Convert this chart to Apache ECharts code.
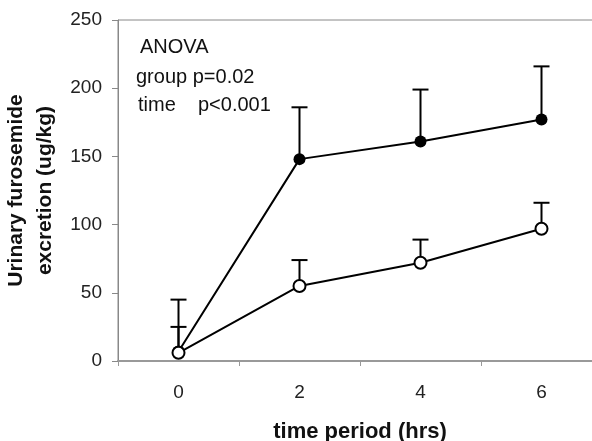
<!DOCTYPE html>
<html>
<head>
<meta charset="utf-8">
<script src="https://cdn.jsdelivr.net/npm/echarts@6/dist/echarts.min.js"></script>
<style>
  html, body { margin: 0; padding: 0; background: #fff; }
  #chart { width: 592px; height: 441px; }
</style>
</head>
<body>
<div id="chart"></div>
<script>
const timeLabels = ["0", "2", "4", "6"];
// filled circles (upper line)
const filledMean = [7, 148, 161, 177];
const filledUpper = [45, 186, 199, 216];
// open circles (lower line)
const openMean = [6, 55, 72, 97];
const openUpper = [25, 74, 89, 116];

const FONT = "Liberation Sans, Arial, sans-serif";

const errBar = (params, api) => {
  const x = api.value(0);
  const p0 = api.coord([x, api.value(1)]);
  const p1 = api.coord([x, api.value(2)]);
  const hw = 8;
  const style = { stroke: "#000", lineWidth: 2 };
  return {
    type: "group",
    children: [
      { type: "line", shape: { x1: p0[0], y1: p0[1], x2: p1[0], y2: p1[1] }, style },
      { type: "line", shape: { x1: p1[0] - hw, y1: p1[1], x2: p1[0] + hw, y2: p1[1] }, style },
    ],
  };
};

const myChart = echarts.init(document.getElementById("chart"));
const options = {
  animation: false,
  textStyle: { fontFamily: FONT },
  grid: {
    left: 118,
    top: 20,
    right: -10,
    bottom: 80,
    outerBoundsMode: "none",
    containLabel: false,
    show: true,
    borderColor: "#888",
    borderWidth: 1,
  },
  xAxis: {
    type: "category",
    data: timeLabels,
    boundaryGap: true,
    axisLine: { lineStyle: { color: "#999", width: 2 } },
    axisTick: { show: true, length: 5, lineStyle: { color: "#999" } },
    axisLabel: { fontSize: 19, color: "#222", margin: 22, fontFamily: FONT },
    name: "time period (hrs)",
    nameLocation: "middle",
    nameGap: 60,
    nameTextStyle: { fontSize: 22, fontWeight: "bold", color: "#111", fontFamily: FONT },
  },
  yAxis: {
    type: "value",
    min: 0,
    max: 250,
    interval: 50,
    splitLine: { show: false },
    axisLine: { show: true, lineStyle: { color: "#888", width: 1 } },
    axisTick: { show: true, length: 6, lineStyle: { color: "#888" } },
    axisLabel: { fontSize: 19, color: "#222", margin: 16, fontFamily: FONT },
    name: "Urinary furosemide\nexcretion (ug/kg)",
    nameLocation: "middle",
    nameGap: 55,
    nameTextStyle: { fontSize: 21, fontWeight: "bold", color: "#111", lineHeight: 29, fontFamily: FONT },
  },
  graphic: [
    { type: "text", left: 140, top: 37, style: { text: "ANOVA", fontSize: 20, fill: "#111", fontFamily: FONT } },
    { type: "text", left: 136, top: 67, style: { text: "group p=0.02", fontSize: 20, fill: "#111", fontFamily: FONT } },
    { type: "text", left: 138, top: 95, style: { text: "time", fontSize: 20, fill: "#111", fontFamily: FONT } },
    { type: "text", left: 198, top: 95, style: { text: "p<0.001", fontSize: 20, fill: "#111", fontFamily: FONT } },
  ],
  series: [
    {
      type: "custom",
      renderItem: errBar,
      encode: { x: 0, y: [1, 2] },
      data: filledMean.map((m, i) => [i, m, filledUpper[i]]),
      z: 1,
    },
    {
      type: "custom",
      renderItem: errBar,
      encode: { x: 0, y: [1, 2] },
      data: openMean.map((m, i) => [i, m, openUpper[i]]),
      z: 1,
    },
    {
      type: "line",
      data: filledMean,
      symbol: "circle",
      symbolSize: 12,
      showAllSymbol: true,
      itemStyle: { color: "#000" },
      lineStyle: { color: "#000", width: 2 },
      z: 3,
    },
    {
      type: "line",
      data: openMean,
      symbol: "circle",
      symbolSize: 12,
      showAllSymbol: true,
      itemStyle: { color: "#fff", borderColor: "#000", borderWidth: 2 },
      lineStyle: { color: "#000", width: 2 },
      z: 4,
    },
  ],
};
myChart.setOption(options, true);
</script>
</body>
</html>
